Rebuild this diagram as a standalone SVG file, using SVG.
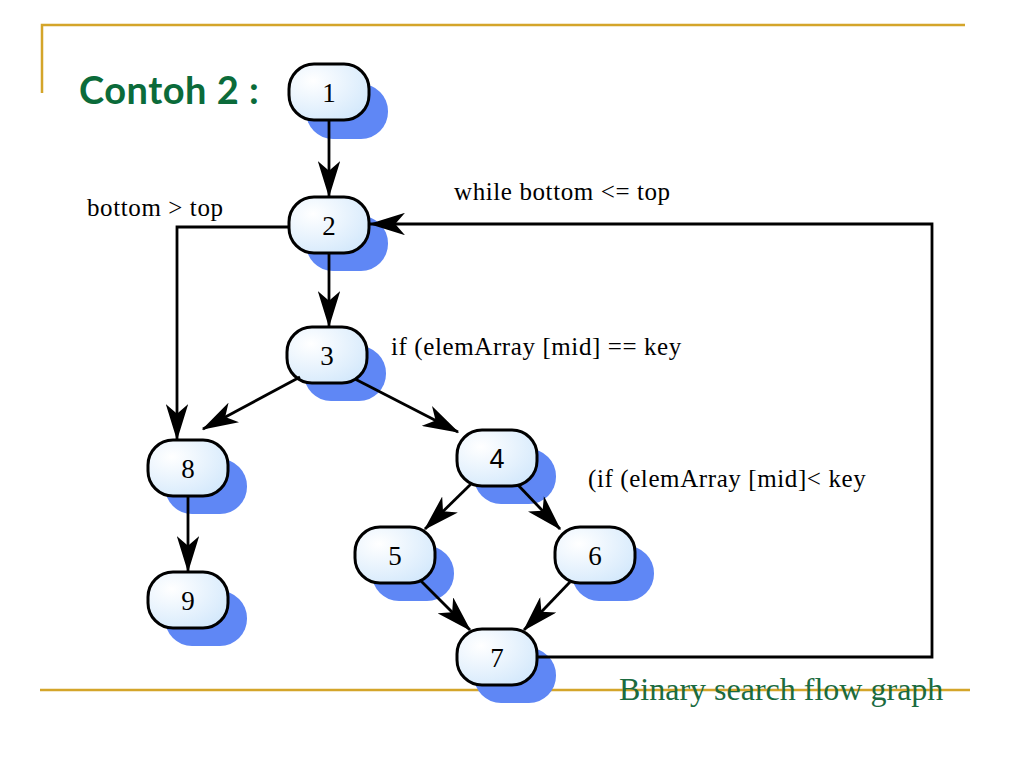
<svg xmlns="http://www.w3.org/2000/svg" width="1024" height="768" viewBox="0 0 1024 768">
<defs>
<radialGradient id="g" cx="0.3" cy="0.3" r="0.9">
<stop offset="0" stop-color="#ffffff"/>
<stop offset="1" stop-color="#cfe6fb"/>
</radialGradient>
<marker id="ah" viewBox="0 0 13 8" refX="12.5" refY="4" markerWidth="13" markerHeight="8" markerUnits="strokeWidth" orient="auto">
<path d="M0,0 L13,4 L0,8 L3.5,4 z" fill="#000"/>
</marker>
</defs>
<style>
.sh{fill:#5f87f5}
.nd{fill:url(#g);stroke:#000;stroke-width:3}
.lb{font-size:27px;text-anchor:middle;fill:#000}
.tx{font-size:25px;letter-spacing:0.6px;fill:#000}
.ed{fill:none;stroke:#000;stroke-width:2.8;marker-end:url(#ah)}
.gl{stroke:#d4a52a;stroke-width:2.5;fill:none}
</style>
<rect width="1024" height="768" fill="#fff"/>
<path class="gl" d="M42,93 V25 H965"/>
<line class="gl" x1="40" y1="690" x2="970" y2="690"/>
<text x="79" y="104" font-family="Lato, 'Open Sans', sans-serif" font-weight="bold" font-size="38" letter-spacing="0.5" fill="#0b6b3a">Contoh 2 :</text>

<g font-family="'Liberation Serif', serif">
<g id="n1"><rect class="sh" x="306" y="84" width="82" height="55" rx="27"/><rect class="nd" x="289" y="64" width="80" height="56" rx="25"/><text class="lb" x="329" y="102">1</text></g>
<g id="n2"><rect class="sh" x="306" y="216" width="82" height="55" rx="27"/><rect class="nd" x="289" y="197" width="80" height="56" rx="25"/><text class="lb" x="329" y="235">2</text></g>
<g id="n3"><rect class="sh" x="304" y="346" width="82" height="55" rx="27"/><rect class="nd" x="287" y="327" width="80" height="56" rx="25"/><text class="lb" x="327" y="365">3</text></g>
<g id="n4"><rect class="sh" x="474" y="449" width="82" height="55" rx="27"/><rect class="nd" x="457" y="430" width="80" height="56" rx="25"/><text class="lb" x="497" y="468" font-family="'Liberation Sans', sans-serif">4</text></g>
<g id="n5"><rect class="sh" x="372" y="546" width="82" height="55" rx="27"/><rect class="nd" x="355" y="527" width="80" height="56" rx="25"/><text class="lb" x="395" y="565">5</text></g>
<g id="n6"><rect class="sh" x="572" y="546" width="82" height="55" rx="27"/><rect class="nd" x="555" y="527" width="80" height="56" rx="25"/><text class="lb" x="595" y="565">6</text></g>
<g id="n7"><rect class="sh" x="474" y="648" width="82" height="55" rx="27"/><rect class="nd" x="457" y="629" width="80" height="56" rx="25"/><text class="lb" x="497" y="667">7</text></g>
<g id="n8"><rect class="sh" x="165" y="459" width="82" height="55" rx="27"/><rect class="nd" x="148" y="440" width="80" height="56" rx="25"/><text class="lb" x="188" y="478">8</text></g>
<g id="n9"><rect class="sh" x="165" y="591" width="82" height="55" rx="27"/><rect class="nd" x="148" y="572" width="80" height="56" rx="25"/><text class="lb" x="188" y="610">9</text></g>

<g id="edges">
<path class="ed" d="M329,120 V196"/>
<path class="ed" d="M329,253 V326"/>
<path class="ed" d="M289,227 H177 V439"/>
<path class="ed" d="M300,377 L203,429"/>
<path class="ed" d="M355,379 L458,432"/>
<path class="ed" d="M472,483 L425,529"/>
<path class="ed" d="M518,485 L560,529"/>
<path class="ed" d="M420,580 L470,630"/>
<path class="ed" d="M570,582 L524,630"/>
<path class="ed" d="M537,657 H932 V224 H370"/>
<path class="ed" d="M188,496 V571"/>
</g>

<text class="tx" x="87" y="216">bottom &gt; top</text>
<text class="tx" x="454" y="200">while bottom &lt;= top</text>
<text class="tx" x="391" y="355">if (elemArray [mid]  == key</text>
<text class="tx" x="588" y="487">(if (elemArray [mid]&lt; key</text>
<text x="619" y="700" font-size="32" fill="#1b6b3f">Binary search flow graph</text>
</g>
</svg>
